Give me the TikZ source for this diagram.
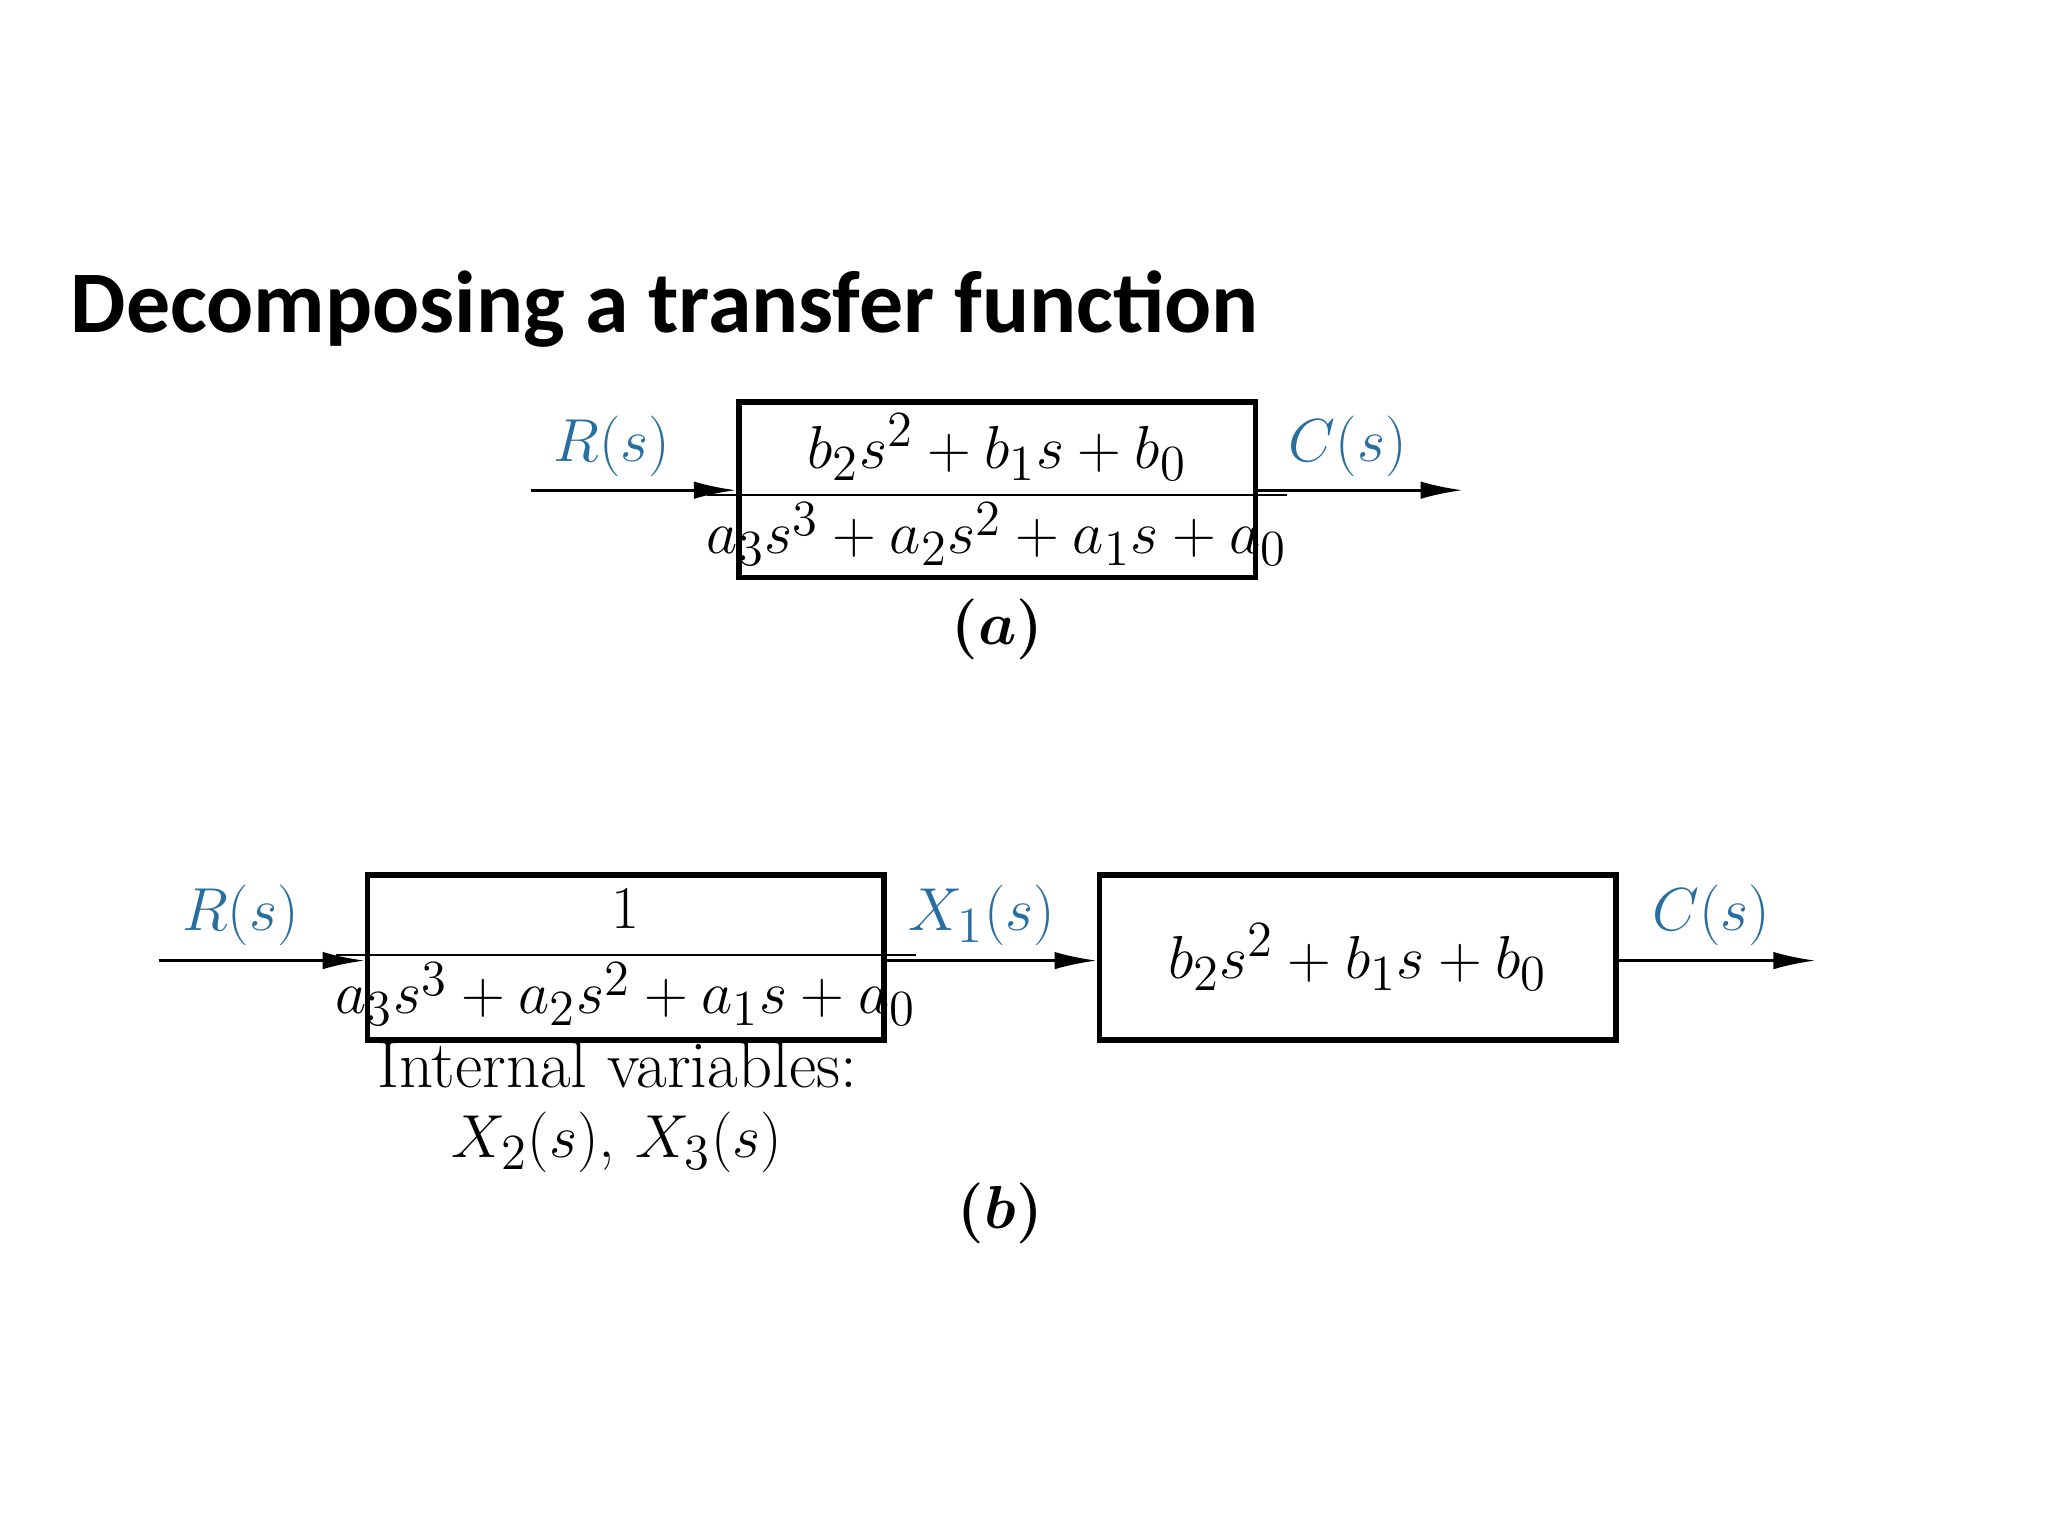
\documentclass[tikz,border=0pt]{standalone}
\usepackage{amsmath}
\usepackage{fontspec}
\newfontfamily\titlefont{Carlito}
\usepackage{tikz}
\usetikzlibrary{arrows.meta}
\definecolor{sigblue}{RGB}{40,110,160}
\begin{document}
\begin{tikzpicture}[x=0.013213cm,y=-0.013213cm,
    blk/.style={draw,line width=1.6pt,inner sep=0pt,anchor=north west},
    sig/.style={-{Latex[length=12pt,width=5pt]},line width=0.8pt},
    lbl/.style={text=sigblue,font=\fontsize{19}{22}\selectfont},
    eq/.style={font=\fontsize{19}{22}\selectfont}]
    \useasboundingbox (0,0) rectangle (1550,1162.5);
    \node[anchor=base west,font=\titlefont\bfseries\fontsize{25}{30}\selectfont,inner sep=0pt] (title) at (53,252) {Decomposing a transfer function};
    % (a)
    \node[blk,minimum width=391*0.013213cm,minimum height=133*0.013213cm] (ga) at (557,302) {};
    \node[eq] (fa) at (ga.center) {$\dfrac{b_2s^2+b_1s+b_0}{a_3s^3+a_2s^2+a_1s+a_0}$};
    \coordinate (ra) at (402,371);
    \coordinate (ca) at (1107,371);
    \draw[sig] (ra) -- (ga.west|-ra);
    \draw[sig] (ga.east|-ca) -- (ca);
    \node[lbl] (lra) at (463,338) {$R(s)$};
    \node[lbl] (lca) at (1020,338) {$C(s)$};
    \node[eq] (capa) at (755,476) {$\boldsymbol{(a)}$};
    % (b)
    \node[blk,minimum width=391*0.013213cm,minimum height=125*0.013213cm] (gb1) at (276,660) {};
    \node[eq] (fb1) at (gb1.center) {$\dfrac{1}{a_3s^3+a_2s^2+a_1s+a_0}$};
    \node[blk,minimum width=391*0.013213cm,minimum height=125*0.013213cm] (gb2) at (830,660) {};
    \node[eq] (fb2) at (gb2.center) {$b_2s^2+b_1s+b_0$};
    \coordinate (rb) at (120,727);
    \coordinate (cb) at (1374,727);
    \draw[sig] (rb) -- (gb1.west|-rb);
    \draw[sig] (gb1.east|-rb) -- (gb2.west|-rb);
    \draw[sig] (gb2.east|-cb) -- (cb);
    \node[lbl] (lrb) at (182,693) {$R(s)$};
    \node[lbl] (lxb) at (743,693) {$X_1(s)$};
    \node[lbl] (lcb) at (1295,693) {$C(s)$};
    \node[eq,align=center] (intv) at (467,838) {Internal variables:\\[-2pt]$X_2(s)$, $X_3(s)$};
    \node[eq] (capb) at (757,918) {$\boldsymbol{(b)}$};
\end{tikzpicture}
\end{document}
